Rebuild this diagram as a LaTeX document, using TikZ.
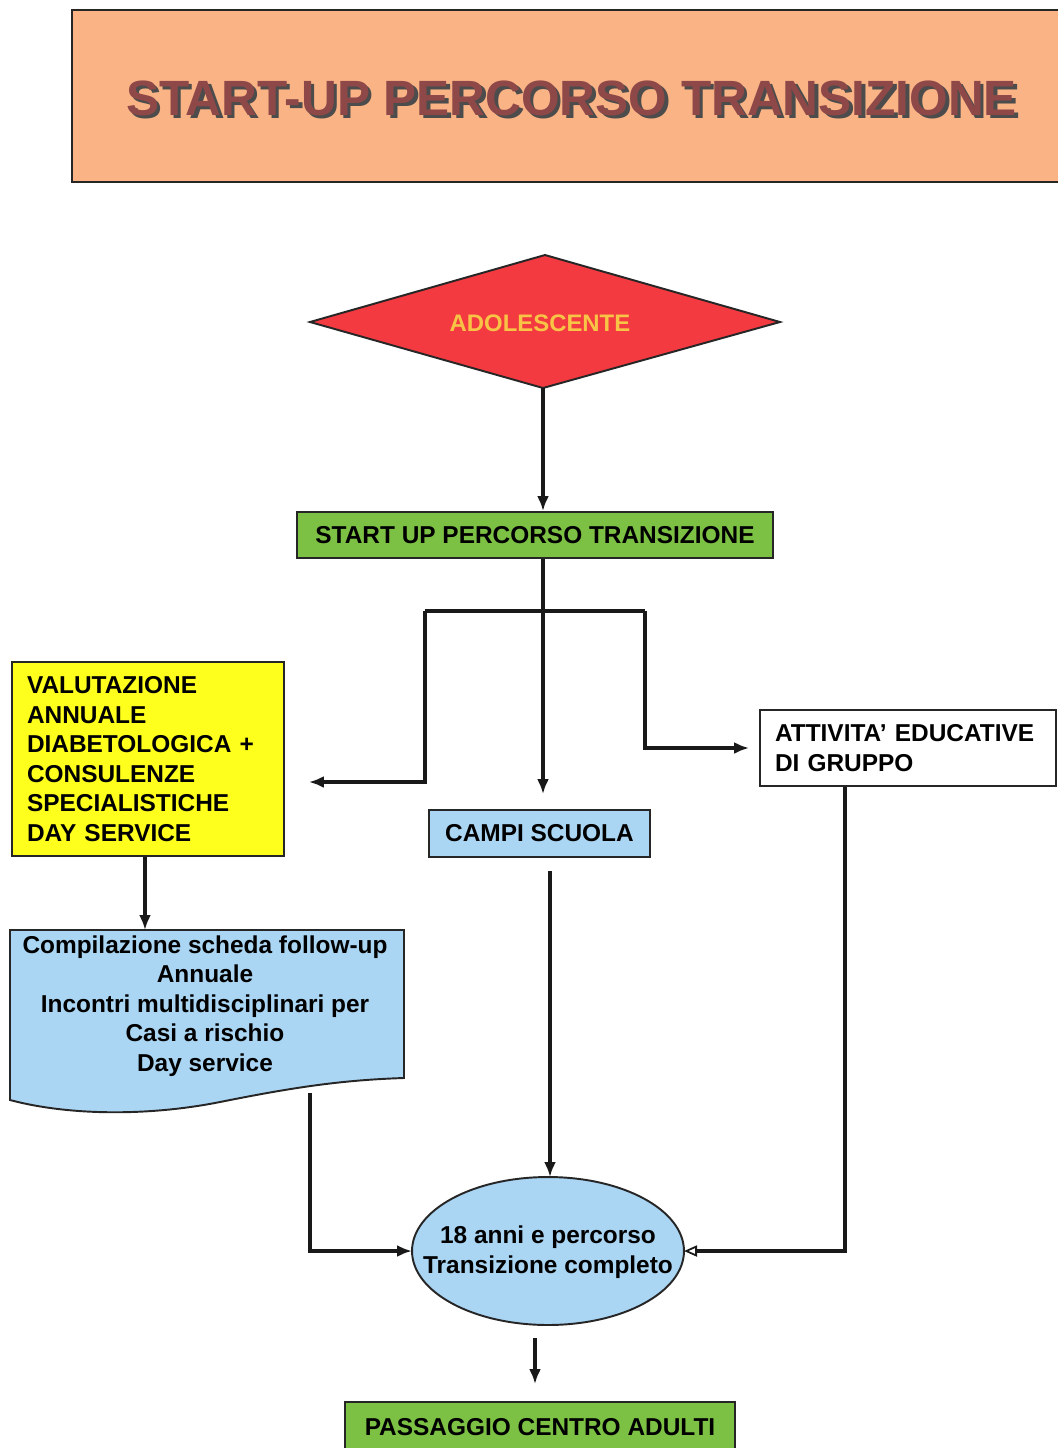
\documentclass[tikz,border=0pt]{standalone}
\usepackage{fontspec}
\setmainfont{Liberation Sans}
\usetikzlibrary{shapes.geometric,arrows.meta,calc}
\definecolor{titlefill}{HTML}{FAB385}
\definecolor{titletext}{HTML}{8E4848}
\definecolor{diamondred}{HTML}{F23A40}
\definecolor{diamondtext}{HTML}{F7C446}
\definecolor{greenbox}{HTML}{7CC143}
\definecolor{yellowbox}{HTML}{FFFF1E}
\definecolor{bluebox}{HTML}{AAD6F4}
\newcommand{\titletxt}{START-UP PERCORSO TRANSIZIONE}
\begin{document}
\begin{tikzpicture}[x=0.02cm,y=-0.02cm,
  fs/.style={font=\fontsize{13.9}{16.8}\selectfont\bfseries},
  boxed/.style={draw=black!85, line width=1.1pt, inner sep=0pt, fs},
  conn/.style={line width=1.8pt, draw=black!90},
  arr/.style={conn, -{Latex[length=0.3cm,width=0.24cm]}},
  openarr/.style={conn, -{Triangle[open,length=0.26cm,width=0.22cm,line width=1pt]}}]
\useasboundingbox (0,0) rectangle (1058,1448);
\clip (0,0) rectangle (1058,1448);

% title
\node (titlebox) [draw=black!85, line width=1.2pt, fill=titlefill, minimum width=19.8cm, minimum height=3.44cm, inner sep=0pt] at (567,96) {};
\node (title) [font=\fontsize{28.2}{32}\selectfont\bfseries, text=titletext, inner sep=0pt] at (571.5,100) {\rlap{\hspace{0.07cm}\raisebox{-0.07cm}{\textcolor{black!70}{\titletxt}}}\titletxt};

% diamond
\path[draw=black!85, line width=1.1pt, fill=diamondred]
  (310,322) coordinate (adolW) -- (545,255) coordinate (adolN) -- (780,322) coordinate (adolE) -- (543,388) coordinate (adolS) -- cycle;
\node (adol) [font=\fontsize{13.6}{16}\selectfont\bfseries, text=diamondtext, inner sep=0pt] at (540,323) {ADOLESCENTE};

% start up box
\node (start) [boxed, fill=greenbox, minimum width=9.52cm, minimum height=0.92cm] at (535,535) {START UP PERCORSO TRANSIZIONE};

% yellow box
\node (valut) [boxed, fill=yellowbox, minimum width=5.44cm, minimum height=3.88cm, text width=4.84cm, inner xsep=0.3cm, align=left] at (148,759) {VALUTAZIONE\\ANNUALE\\DIABETOLOGICA +\\CONSULENZE\\SPECIALISTICHE\\DAY SERVICE};

% campi scuola
\node (campi) [boxed, fill=bluebox, minimum width=4.42cm, minimum height=0.94cm] at (539.5,833.5) {CAMPI SCUOLA};

% attivita
\node (attiv) [boxed, fill=white, minimum width=5.92cm, minimum height=1.52cm, text width=5.32cm, inner xsep=0.3cm, align=left] at (908,748) {ATTIVITA’ EDUCATIVE\\DI GRUPPO};

% document shape
\path[draw=black!85, line width=1.1pt, fill=bluebox]
  (10,930) -- (404,930) -- (404,1078)
  .. controls (340,1080) and (290,1088) .. (220,1102)
  .. controls (150,1116) and (70,1116) .. (10,1100) -- cycle;
\node (comp) [fs, align=center, inner sep=0pt] at (205,1006) {Compilazione scheda follow-up\\Annuale\\Incontri multidisciplinari per\\Casi a rischio\\Day service};
\coordinate (docbottom) at (310,1093);
\coordinate (doctop) at (145,930);

% ellipse
\path[draw=black!85, line width=1.1pt, fill=bluebox] (548,1251) ellipse [x radius=2.72cm, y radius=1.48cm];
\coordinate (ellW) at (412,1251);
\coordinate (ellE) at (684,1251);
\coordinate (ellN) at (548,1177);
\coordinate (ellS) at (548,1325);
\node (ell) [fs, align=center, inner sep=0pt] at (548,1252) {18 anni e percorso\\Transizione completo};

% final box
\node (passa) [boxed, fill=greenbox, minimum width=7.8cm, minimum height=1.0cm] at (540,1427) {PASSAGGIO CENTRO ADULTI};

% connectors
\coordinate (split) at (543,611);
\coordinate (lsplit) at (425,611);
\coordinate (rsplit) at (645,611);
\draw[arr] (adolS) -- (adolS |- start.north);
\draw[arr, shorten >=0.3cm] (start.south -| split) -- (split) -- (split |- campi.north);
\draw[conn] (lsplit) -- (rsplit);
\draw[arr, shorten >=0.48cm] (lsplit) -- (lsplit |- 0,782) -- (valut.east |- 0,782);
\draw[arr, shorten >=0.2cm] (rsplit) -- (rsplit |- attiv.west) -- (attiv.west);
\draw[arr] (valut.south -| doctop) -- (doctop);
\draw[arr] (docbottom) |- (ellW);
\draw[arr, shorten <=0.26cm] (campi.south -| 550,0) -- (ellN -| 550,0);
\draw[openarr] (attiv.south -| 845,0) |- (ellE);
\draw[arr, shorten <=0.26cm, shorten >=0.34cm] (ellS -| 535,0) -- (passa.north -| 535,0);
\end{tikzpicture}
\end{document}
